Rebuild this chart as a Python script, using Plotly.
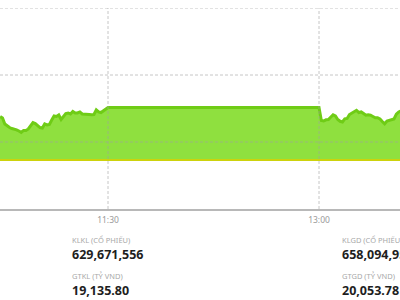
import pandas as pd
import plotly.graph_objects as go

# ---- data ----
morning_start = "2024-01-02 10:44"
morning_values = [1273.81, 1273.58, 1272.69, 1272.39, 1272.16, 1272.01, 1271.94, 1271.82, 1271.64, 1271.42,
                  1271.72, 1271.72, 1271.94, 1272.39, 1272.91, 1272.76, 1272.46, 1272.16, 1272.09, 1272.69,
                  1272.54, 1272.61, 1273.28, 1273.88, 1273.81, 1274.03, 1273.36, 1273.81, 1274.25, 1274.33,
                  1274.18, 1274.55, 1274.33, 1274.33, 1274.48, 1274.18, 1274.18, 1274.21, 1274.10, 1274.06,
                  1274.10, 1274.78, 1274.48, 1274.40, 1274.66, 1274.93, 1275.15]
afternoon_start = "2024-01-02 13:00"
afternoon_values = [1275.15, 1273.21, 1273.13, 1273.31, 1273.36, 1273.73, 1274.06, 1273.88, 1273.36, 1273.09,
                    1272.99, 1273.46, 1273.51, 1274.10, 1274.33, 1274.51, 1274.73, 1274.40, 1274.48, 1274.25,
                    1273.99, 1274.06, 1274.00, 1273.81, 1273.61, 1273.63, 1273.43, 1273.06, 1272.72, 1273.13,
                    1273.21, 1273.28, 1273.43, 1274.15, 1274.48, 1274.63]
reference_value = 1267.31
grid_values = [1270, 1280, 1290]
tick_times = ["2024-01-02 11:30", "2024-01-02 13:00"]
x_range = ["2024-01-02 10:43:56", "2024-01-02 13:34:33"]
y_range = [1260, 1290]

stats_left = [("KLKL (CỔ PHIẾU)", "629,671,556"), ("GTKL (TỶ VND)", "19,135.80")]
stats_right = [("KLGD (CỔ PHIẾU)", "658,094,956"), ("GTGD (TỶ VND)", "20,053.78")]

# ---- build ----
t_m = pd.date_range(morning_start, periods=len(morning_values), freq="min")
t_a = pd.date_range(afternoon_start, periods=len(afternoon_values), freq="min")
times = list(t_m) + list(t_a)
values = morning_values + afternoon_values

fig = go.Figure()
ref_x = [times[0] - pd.Timedelta(minutes=2), times[-1] + pd.Timedelta(minutes=2)]
fig.add_trace(go.Scatter(x=ref_x, y=[reference_value] * 2, mode="lines",
                         line=dict(width=0, color="rgba(0,0,0,0)"), hoverinfo="skip", showlegend=False))
fig.add_trace(go.Scatter(x=times, y=values, mode="lines", fill="tonexty",
                         fillcolor="#8fe03f", line=dict(color="#6fcc16", width=3),
                         showlegend=False))
fig.add_trace(go.Scatter(x=ref_x, y=[reference_value] * 2, mode="lines",
                         line=dict(width=2, color="#cdd20c"), hoverinfo="skip", showlegend=False))

grid_color = "rgba(160,160,160,0.6)"
for gv in grid_values:
    fig.add_shape(type="line", xref="paper", x0=0, x1=1, yref="y", y0=gv, y1=gv,
                  line=dict(color=grid_color, width=1, dash="3px,2px"), layer="above")
for tt in tick_times:
    fig.add_shape(type="line", xref="x", x0=tt, x1=tt, yref="y", y0=y_range[0], y1=y_range[1],
                  line=dict(color=grid_color, width=1, dash="3px,2px"), layer="above")


def py(ypx):
    return (209 - ypx) / 201.0


label_font = dict(family="Noto Sans", size=7.5, color="#a8a8a8")
value_font = dict(family="Noto Sans", size=12.5, color="#1e1e1e", weight=700)
for col_stats, xpx in [(stats_left, 70), (stats_right, 340)]:
    for i, (lab, val) in enumerate(col_stats):
        ylab = 239.5 + i * 36
        yval = 254 + i * 36
        fig.add_annotation(x=xpx / 400, y=py(ylab), xref="paper", yref="paper", text=lab,
                           showarrow=False, xanchor="left", yanchor="middle", font=label_font)
        fig.add_annotation(x=xpx / 400, y=py(yval), xref="paper", yref="paper", text=val,
                           showarrow=False, xanchor="left", yanchor="middle", font=value_font)

fig.update_layout(
    width=400, height=300, autosize=False,
    margin=dict(l=0, r=0, t=8, b=91),
    paper_bgcolor="white", plot_bgcolor="white",
    xaxis=dict(range=x_range, type="date", showgrid=False, zeroline=False,
               tickvals=tick_times, tickformat="%H:%M",
               tickfont=dict(family="Noto Sans", size=8.5, color="#9a9a9a"),
               ticklabelstandoff=2,
               showline=True, linecolor="#b8b8b8", linewidth=1.5, ticks=""),
    yaxis=dict(range=y_range, showgrid=False, zeroline=False, showticklabels=False, showline=False),
)

fig.write_html("out.html")
